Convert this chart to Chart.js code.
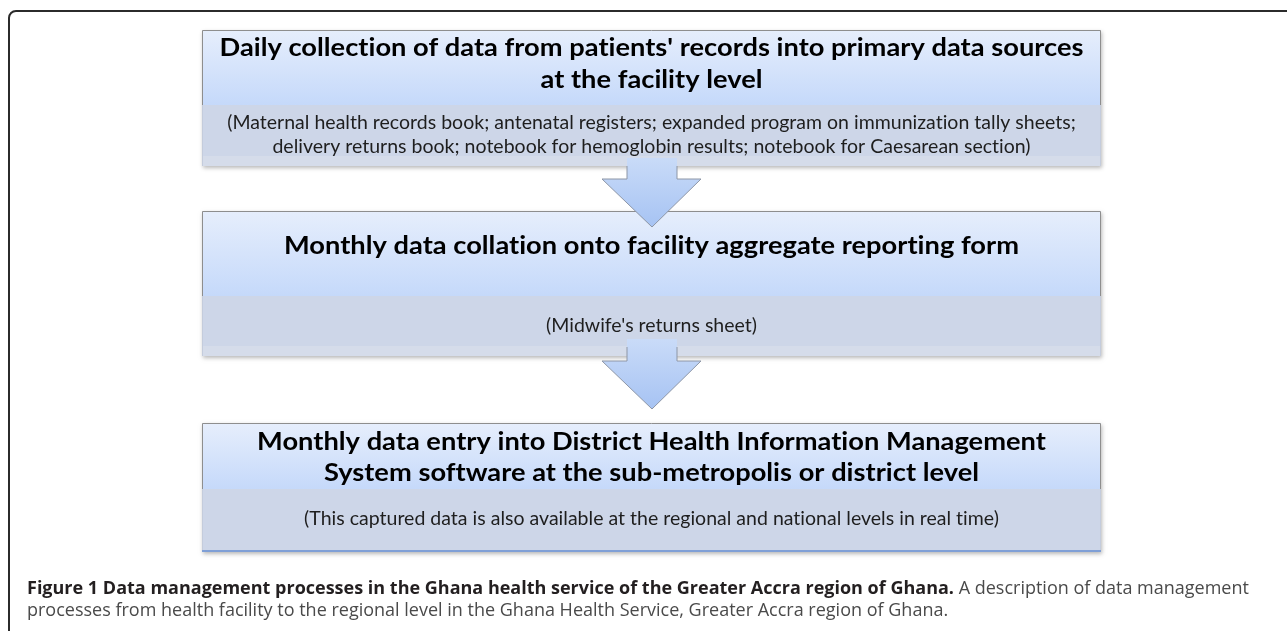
<!DOCTYPE html>
<html>
<head>
<meta charset="utf-8">
<script src="https://cdn.jsdelivr.net/npm/chart.js@4"></script>
<style>
html,body{margin:0;padding:0;background:#fff;}
#wrap{width:1287px;height:631px;position:relative;}
</style>
</head>
<body>
<div id="wrap"><canvas id="c" width="1287" height="631"></canvas></div>
<script>
// ---- content (text of the flow diagram) ----
const stepTitles = [
  ["Daily collection of data from patients' records into primary data sources", "at the facility level"],
  ["Monthly data collation onto facility aggregate reporting form"],
  ["Monthly data entry into District Health Information Management", "System software at the sub-metropolis or district level"]
];
const stepNotes = [
  ["(Maternal health records book; antenatal registers; expanded program on immunization tally sheets;", "delivery returns book; notebook for hemoglobin results; notebook for Caesarean section)"],
  ["(Midwife's returns sheet)"],
  ["(This captured data is also available at the regional and national levels in real time)"]
];
const captionBold = "Figure 1 Data management processes in the Ghana health service of the Greater Accra region of Ghana.";
const captionRest = " A description of data management";
const captionLine2 = "processes from health facility to the regional level in the Ghana Health Service, Greater Accra region of Ghana.";

// ---- layout (diagram units on hidden linear axes) ----
const boxX = [202, 1101];
const boxTop = [30, 211, 423];
const bandTop = [105, 296, 489];
const boxBottom = [166, 356, 552];
const titleY = [[48, 80], [246], [442, 473]];
const noteY = [[123, 147], [326], [519]];
const arrowShaft = [627, 677];
const arrowWing = [602, 701];
const arrowRows = [[158, 179, 227], [339, 361, 409]];

const flowPlugin = {
  id: 'flow',
  afterDraw(chart) {
    const ctx = chart.ctx, xs = chart.scales.x, ys = chart.scales.y;
    const X = v => xs.getPixelForValue(v), Y = v => ys.getPixelForValue(v);
    ctx.save();
    // outer frame (open at right/bottom)
    ctx.strokeStyle = '#2b2b2b'; ctx.lineWidth = 2;
    ctx.beginPath();
    ctx.moveTo(X(9), Y(631));
    ctx.lineTo(X(9), Y(18));
    ctx.arcTo(X(9), Y(11), X(16), Y(11), 7);
    ctx.lineTo(X(1287), Y(11));
    ctx.stroke();

    const stretchText = (s, x, y, sx) => {
      ctx.save(); ctx.translate(x, y); ctx.scale(sx, 1); ctx.fillText(s, 0, 0); ctx.restore();
    };

    // boxes
    for (let i = 0; i < stepTitles.length; i++) {
      const x0 = X(boxX[0]), x1 = X(boxX[1]);
      const t = Y(boxTop[i]), b = Y(bandTop[i]), e = Y(boxBottom[i]);
      ctx.save();
      ctx.shadowColor = 'rgba(0,0,0,0.28)'; ctx.shadowBlur = 4; ctx.shadowOffsetX = 1; ctx.shadowOffsetY = 2;
      ctx.fillStyle = '#cdd6e8';
      ctx.fillRect(x0, t, x1 - x0, e - t);
      ctx.restore();
      const g = ctx.createLinearGradient(0, t, 0, b);
      g.addColorStop(0, '#e6eefc'); g.addColorStop(1, '#c5d9fa');
      ctx.fillStyle = g; ctx.fillRect(x0, t, x1 - x0, b - t);
      ctx.fillStyle = '#cdd6e8'; ctx.fillRect(x0, b, x1 - x0, e - b);
      if (i < 2) { ctx.fillStyle = '#d5dcea'; ctx.fillRect(x0, e - 10, x1 - x0, 10); }
      ctx.strokeStyle = '#8e8e8e'; ctx.lineWidth = 1;
      ctx.beginPath();
      ctx.moveTo(x0 + 0.5, b); ctx.lineTo(x0 + 0.5, t + 0.5); ctx.lineTo(x1 - 0.5, t + 0.5); ctx.lineTo(x1 - 0.5, b);
      ctx.stroke();
      ctx.strokeStyle = '#c4ccdc';
      ctx.beginPath(); ctx.moveTo(x0 + 0.5, b); ctx.lineTo(x0 + 0.5, e); ctx.moveTo(x1 - 0.5, b); ctx.lineTo(x1 - 0.5, e); ctx.stroke();
      if (i === 2) { ctx.strokeStyle = '#7f9fd6'; ctx.lineWidth = 2; ctx.beginPath(); ctx.moveTo(x0, e - 1); ctx.lineTo(x1, e - 1); ctx.stroke(); }
      ctx.textAlign = 'center'; ctx.textBaseline = 'middle';
      const cx = (x0 + x1) / 2;
      ctx.fillStyle = '#000';
      ctx.font = 'bold 25px Lato';
      ctx.letterSpacing = '0.01px';
      stepTitles[i].forEach((s, k) => stretchText(s, cx, Y(titleY[i][k]), 1.09));
      ctx.fillStyle = '#1e1e1e';
      ctx.font = '19.5px Lato';
      stepNotes[i].forEach((s, k) => ctx.fillText(s, cx, Y(noteY[i][k])));
      ctx.letterSpacing = '0px';
    }

    // arrows
    arrowRows.forEach(r => {
      const s0 = X(arrowShaft[0]), s1 = X(arrowShaft[1]), w0 = X(arrowWing[0]), w1 = X(arrowWing[1]);
      const ys0 = Y(r[0]), yw = Y(r[1]), yt = Y(r[2]);
      const g = ctx.createLinearGradient(0, ys0, 0, yt);
      g.addColorStop(0, '#c9dbf8'); g.addColorStop(1, '#a6c3f3');
      ctx.beginPath();
      ctx.moveTo(s0, ys0); ctx.lineTo(s1, ys0); ctx.lineTo(s1, yw); ctx.lineTo(w1, yw);
      ctx.lineTo((s0 + s1) / 2, yt); ctx.lineTo(w0, yw); ctx.lineTo(s0, yw); ctx.closePath();
      ctx.fillStyle = g; ctx.fill();
      ctx.strokeStyle = '#8d96a6'; ctx.lineWidth = 1;
      ctx.beginPath();
      ctx.moveTo(s0, ys0 + 8); ctx.lineTo(s0, yw); ctx.lineTo(w0, yw); ctx.lineTo((s0 + s1) / 2, yt); ctx.lineTo(w1, yw); ctx.lineTo(s1, yw); ctx.lineTo(s1, ys0 + 8);
      ctx.stroke();
    });

    // caption
    ctx.textAlign = 'left'; ctx.textBaseline = 'alphabetic';
    ctx.font = 'bold 18px "Open Sans"'; ctx.fillStyle = '#231f20';
    ctx.fillText(captionBold, X(27), Y(594));
    const bw = ctx.measureText(captionBold).width;
    ctx.font = '18px "Open Sans"'; ctx.fillStyle = '#4a4a4a';
    ctx.fillText(captionRest, X(27) + bw, Y(594));
    ctx.fillText(captionLine2, X(27), Y(616));
    ctx.restore();
  }
};

new Chart(document.getElementById('c'), {
  type: 'scatter',
  data: { datasets: [{ data: [], pointRadius: 0 }] },
  options: {
    responsive: false, animation: false,
    layout: { padding: 0 },
    plugins: { legend: { display: false }, tooltip: { enabled: false } },
    scales: {
      x: { type: 'linear', min: 0, max: 1287, display: false },
      y: { type: 'linear', min: 0, max: 631, reverse: true, display: false }
    }
  },
  plugins: [flowPlugin]
});
</script>
</body>
</html>
